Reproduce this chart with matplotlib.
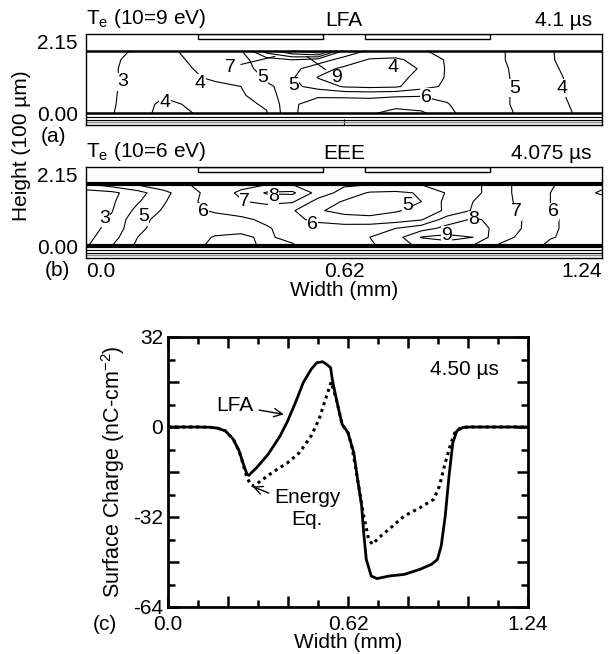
import numpy as np
import matplotlib
matplotlib.use('Agg')
import matplotlib.pyplot as plt
from matplotlib.patches import Rectangle
from matplotlib.ticker import FixedLocator, FixedFormatter

plt.rcParams['font.family'] = ['Liberation Sans', 'DejaVu Sans']
plt.rcParams['mathtext.fontset'] = 'custom'
plt.rcParams['mathtext.rm'] = 'Liberation Sans'
plt.rcParams['mathtext.it'] = 'Liberation Sans:italic'

# --------- Te maps (a) LFA and (b) EEE, scale 10 = peak ---------
grid_x = [0.000, 0.062, 0.124, 0.186, 0.248, 0.310, 0.372, 0.434, 0.496, 0.558, 0.620,
          0.682, 0.744, 0.806, 0.868, 0.930, 0.992, 1.054, 1.116, 1.178, 1.240]
grid_y = [0.28, 0.49, 0.70, 0.91, 1.12, 1.33, 1.54, 1.75]

te_lfa = [
    [2.6, 2.95, 3.5, 4.4, 4.05, 3.7, 3.8, 3.95, 5.9, 6.4, 6.6, 6.8, 7.5, 7.2, 6.2, 5.6, 5.2, 4.85, 4.3, 3.95, 3.5],
    [2.6, 2.9, 3.5, 4.25, 3.9, 3.7, 3.8, 4.1, 5.9, 6.3, 6.4, 6.4, 6.5, 6.4, 6.05, 5.5, 5.15, 4.8, 4.25, 3.9, 3.5],
    [2.6, 2.9, 3.4, 3.9, 3.75, 3.7, 3.85, 4.6, 5.6, 5.9, 5.85, 5.8, 5.9, 5.95, 5.8, 5.45, 5.15, 4.8, 4.2, 3.85, 3.4],
    [2.6, 2.9, 3.3, 3.6, 3.7, 3.8, 4.0, 4.9, 5.25, 4.6, 3.9, 3.75, 3.85, 4.6, 5.2, 5.4, 5.15, 4.8, 4.2, 3.85, 3.4],
    [2.6, 2.9, 3.3, 3.6, 3.85, 4.15, 4.4, 5.1, 5.1, 3.95, 3.7, 3.6, 3.7, 4.3, 5.1, 5.4, 5.15, 4.8, 4.15, 3.85, 3.4],
    [2.6, 2.9, 3.3, 3.65, 3.95, 4.3, 4.7, 5.3, 5.3, 4.4, 3.8, 3.5, 3.5, 4.1, 5.1, 5.4, 5.15, 4.75, 4.1, 3.8, 3.3],
    [2.6, 2.92, 3.15, 3.7, 4.05, 4.35, 4.75, 5.5, 6.0, 5.5, 4.6, 3.9, 3.8, 4.4, 5.1, 5.4, 5.1, 4.7, 4.05, 3.75, 3.3],
    [2.7, 2.9, 3.05, 3.8, 4.15, 4.4, 4.9, 7.5, 9.0, 10.0, 5.8, 4.8, 4.7, 4.9, 5.3, 5.45, 5.1, 4.7, 4.05, 3.7, 3.3],
]

te_eee = [
    [2.9, 4.0, 5.2, 5.6, 5.8, 6.15, 6.25, 5.85, 5.9, 6.4, 6.6, 6.9, 7.3, 8.3, 8.5, 7.9, 6.9, 6.4, 5.8, 5.8, 5.7],
    [2.7, 3.6, 5.0, 5.5, 5.7, 6.05, 6.1, 5.9, 6.2, 6.5, 6.7, 7.0, 7.6, 9.05, 9.3, 9.0, 7.3, 6.8, 6.05, 5.8, 5.7],
    [2.6, 3.3, 4.8, 5.4, 5.6, 5.75, 5.85, 5.95, 6.2, 6.4, 6.5, 6.6, 7.0, 7.6, 8.3, 8.5, 7.7, 6.9, 6.1, 5.8, 5.7],
    [2.6, 3.15, 4.7, 5.3, 5.7, 5.85, 5.9, 6.1, 6.2, 5.8, 5.4, 5.3, 5.5, 5.9, 7.5, 8.1, 7.8, 6.9, 6.1, 5.8, 5.7],
    [2.5, 2.95, 4.3, 5.1, 5.9, 6.05, 6.2, 6.3, 6.1, 5.1, 4.7, 4.6, 4.9, 5.3, 6.2, 7.1, 7.3, 6.85, 6.0, 5.7, 5.7],
    [2.5, 2.85, 3.9, 4.9, 5.8, 6.4, 6.9, 7.3, 7.1, 5.6, 4.9, 4.5, 4.6, 5.0, 6.3, 7.0, 7.25, 6.8, 6.0, 5.7, 5.7],
    [2.5, 2.75, 3.6, 4.7, 5.7, 6.4, 7.2, 8.1, 8.2, 6.6, 5.6, 4.9, 4.8, 5.1, 6.1, 6.9, 7.2, 6.8, 6.0, 5.7, 6.1],
    [4.0, 4.6, 5.2, 5.7, 6.0, 6.3, 6.6, 6.9, 6.9, 6.5, 6.2, 6.1, 6.1, 6.1, 6.4, 6.9, 7.2, 6.8, 6.05, 5.8, 5.8],
]
te_levels = [2, 3, 4, 5, 6, 7, 8, 9]

labels_lfa = [(0.089, 1.02, '3'), (0.274, 0.99, '4'), (0.19, 0.54, '4'), (0.425, 1.12, '5'),
              (0.498, 0.93, '5'), (0.738, 1.35, '4'), (0.817, 0.66, '6'), (1.029, 0.87, '5'),
              (1.144, 0.87, '4')]
leaders_lfa = [('7', (0.346, 1.37), (0.454, 1.62)), ('9', (0.601, 1.13), (0.531, 1.62))]
labels_eee = [(0.045, 0.94, '3'), (0.139, 0.97, '5'), (0.283, 1.09, '6'), (0.381, 1.33, '7'),
              (0.451, 1.45, '8'), (0.773, 1.25, '5'), (0.545, 0.78, '6'), (0.932, 0.90, '8'),
              (0.867, 0.54, '9'), (1.034, 1.09, '7'), (1.123, 1.09, '6')]

electrodes = [(0.27, 0.57), (0.67, 0.97)]

# --------- Surface charge (c) at 4.50 us ---------
lfa_x = [0, 0.10, 0.145, 0.17, 0.198, 0.225, 0.245, 0.258, 0.272, 0.278, 0.305, 0.345, 0.386,
         0.412, 0.439, 0.466, 0.493, 0.513, 0.533, 0.546, 0.560, 0.566, 0.580, 0.593, 0.600,
         0.620, 0.633, 0.640, 0.653, 0.667, 0.674, 0.683, 0.700, 0.720, 0.761, 0.814, 0.868,
         0.908, 0.928, 0.941, 0.955, 0.968, 0.981, 0.995, 1.015, 1.04, 1.24]
lfa_q = [0, 0, -0.1, -0.4, -1.4, -4.4, -8.5, -12.7, -16.8, -17.2, -14.5, -9.7, -3.2,
         2.1, 8.7, 15.8, 20.5, 22.9, 23.2, 22.3, 21.1, 16.9, 9.8, 3.9, 0.9,
         -2.0, -6.8, -9.1, -18.6, -28.1, -37.6, -47.1, -53.0, -53.9, -53.0, -52.4, -50.6,
         -48.8, -47.1, -42.3, -31.6, -17.4, -5.6, -1.4, -0.2, 0, 0]
ee_x = [0, 0.10, 0.145, 0.17, 0.198, 0.225, 0.245, 0.258, 0.272, 0.285, 0.295, 0.319, 0.359,
        0.412, 0.453, 0.493, 0.520, 0.546, 0.562, 0.580, 0.600, 0.620, 0.633, 0.653, 0.674,
        0.691, 0.704, 0.727, 0.761, 0.814, 0.868, 0.915, 0.935, 0.955, 0.975, 0.988, 1.008,
        1.03, 1.24]
ee_q = [0, 0, -0.1, -0.4, -1.4, -4.4, -8.5, -13, -18, -20.5, -21, -19.2, -16.2,
        -12.7, -9.1, -3.2, 2.7, 11, 16, 9.8, 0.9, -2.0, -6.8, -18.6, -31.6,
        -39.9, -41.7, -39.3, -36.4, -31.6, -28.7, -25.7, -21, -12.7, -5.6, -2.0, -0.2,
        0, 0]

fig = plt.figure(figsize=(6.1, 6.54), dpi=100)
W, H = 610, 654


def box(l, t, r, b):
    return fig.add_axes([l / W, 1 - b / H, (r - l) / W, (b - t) / H])


def te_panel(ax, te, labels, thick, title_l, title_c, title_r):
    ax.contour(grid_x, grid_y, np.array(te), levels=te_levels, colors='k', linewidths=0.8)
    ax.set_xlim(0, 1.24)
    ax.set_ylim(0, 2.15)
    # dielectric / electrode outlines
    ax.axhline(1.75, color='k', lw=thick)
    ax.axhline(0.28, color='k', lw=thick)
    ax.axhline(0.19, color='k', lw=0.8)
    ax.axhline(0.12, color='k', lw=0.8)
    ax.axhline(0.06, color='0.55', lw=1.0)
    for x0, x1 in electrodes:
        ax.add_patch(Rectangle((x0, 2.03), x1 - x0, 0.12, fc='white', ec='k', lw=1))
    for x, y, s in labels:
        ax.text(x, y, s, fontsize=14, ha='center', va='center',
                bbox=dict(fc='white', ec='none', pad=0.2))
    ax.set_yticks([0, 2.15])
    ax.set_yticklabels(['0.00', '2.15'], fontsize=15)
    labs = ax.get_yticklabels()
    labs[0].set_verticalalignment('bottom')
    labs[1].set_verticalalignment('top')
    ax.tick_params(axis='y', length=0, pad=6)
    ax.set_xticks([0.62])
    ax.tick_params(axis='x', direction='in', length=4)
    for sp in ax.spines.values():
        sp.set_linewidth(1.0)
    ax.text(0.0, 1.04, title_l, transform=ax.transAxes, fontsize=15, ha='left', va='bottom')
    ax.text(0.5, 1.04, title_c, transform=ax.transAxes, fontsize=15, ha='center', va='bottom')
    ax.text(0.98, 1.04, title_r, transform=ax.transAxes, fontsize=15, ha='right', va='bottom')


ax_a = box(86, 34, 602, 125)
te_panel(ax_a, te_lfa, labels_lfa, 1.8, r'T$_{\rm e}$ (10=9 eV)', 'LFA', '4.1 µs')
ax_a.set_xticklabels([])
for s, xt, xy in leaders_lfa:
    ax_a.annotate(s, xy=xy, xytext=xt, fontsize=14, ha='center', va='center',
                  arrowprops=dict(arrowstyle='-', lw=0.8, shrinkA=2, shrinkB=0))

ax_b = box(86, 167, 602, 258)
te_panel(ax_b, te_eee, labels_eee, 3.0, r'T$_{\rm e}$ (10=6 eV)', 'EEE', '4.075 µs')
ax_b.xaxis.set_major_locator(FixedLocator([0.0, 0.62, 1.24]))
ax_b.set_xticklabels(['0.0', '0.62', '1.24'], fontsize=15)
xl = ax_b.get_xticklabels()
xl[0].set_horizontalalignment('left')
xl[2].set_horizontalalignment('right')
ax_b.tick_params(axis='x', direction='in', length=0, pad=3)
ax_b.set_xlabel('Width (mm)', fontsize=15, labelpad=0)

fig.text(22 / W, 1 - 146 / H, 'Height (100 µm)', rotation=90, fontsize=15, ha='center', va='center')
fig.text(54 / W, 1 - 136 / H, '(a)', fontsize=15, ha='center', va='center')
fig.text(57 / W, 1 - 270 / H, '(b)', fontsize=15, ha='center', va='center')

# --------- (c) ---------
ax_c = box(168, 337, 528, 607)
ax_c.plot(lfa_x, lfa_q, color='k', lw=2.0)
ax_c.plot(ee_x, ee_q, color='k', lw=2.2, linestyle=(0, (1, 1.3)))
ax_c.set_xlim(0, 1.24)
ax_c.set_ylim(-64, 32)
ax_c.xaxis.set_major_locator(FixedLocator([0, 0.2067, 0.4133, 0.62, 0.8267, 1.0333, 1.24]))
ax_c.xaxis.set_major_formatter(FixedFormatter(['0.0', '', '', '0.62', '', '', '1.24']))
ax_c.xaxis.set_minor_locator(FixedLocator([0.1033, 0.31, 0.5167, 0.7233, 0.93, 1.1367]))
ax_c.yaxis.set_major_locator(FixedLocator([-64, -48, -32, -16, 0, 16, 32]))
ax_c.yaxis.set_major_formatter(FixedFormatter(['-64', '', '-32', '', '0', '', '32']))
ax_c.yaxis.set_minor_locator(FixedLocator([-56, -40, -24, -8, 8, 24]))
ax_c.tick_params(which='both', direction='in', top=True, right=True, width=1.8, labelsize=15)
ax_c.tick_params(which='major', length=8)
ax_c.tick_params(which='minor', length=5)
ax_c.tick_params(axis='x', pad=6)
for sp in ax_c.spines.values():
    sp.set_linewidth(2.0)
ax_c.set_xlabel('Width (mm)', fontsize=15, labelpad=-1)
ax_c.set_ylabel('Surface Charge (nC-cm$^{-2}$)', fontsize=15.5, labelpad=4)
ax_c.text(1.022, 20.5, '4.50 µs', fontsize=15, ha='center', va='center')
ax_c.annotate('LFA', xy=(0.399, 4.5), xytext=(0.231, 7.5), fontsize=15, ha='center', va='center',
              arrowprops=dict(arrowstyle='->', lw=1.0, shrinkA=2, shrinkB=0))
ax_c.annotate('Energy\nEq.', xy=(0.292, -21.2), xytext=(0.48, -29), fontsize=15, ha='center',
              va='center', multialignment='center',
              arrowprops=dict(arrowstyle='->', lw=1.0, shrinkA=2, shrinkB=0))
fig.text(105 / W, 1 - 625 / H, '(c)', fontsize=15, ha='center', va='center')

fig.savefig('out.png', dpi=100)
